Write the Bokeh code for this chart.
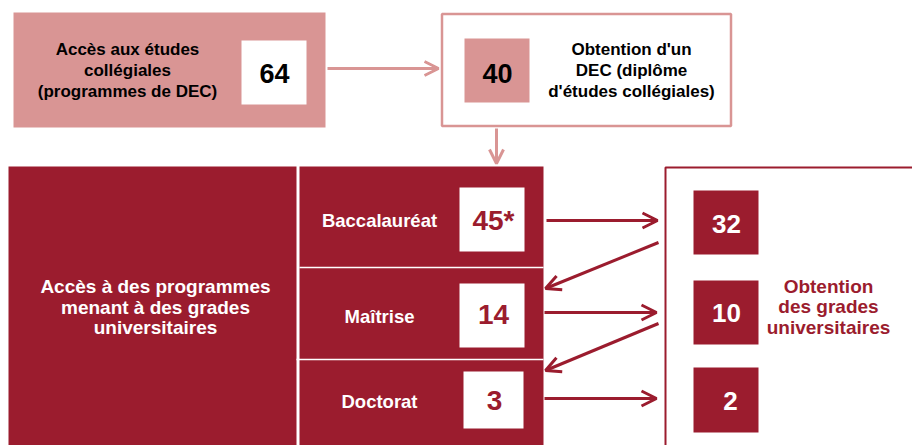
from bokeh.plotting import figure
from bokeh.models import Range1d, Arrow, OpenHead
from bokeh.core.properties import value
from bokeh.embed import file_html
from bokeh.resources import INLINE

# ---------------- data ----------------
college_access_label = ["Accès aux études", "collégiales", "(programmes de DEC)"]
college_access_value = ["64"]
dec_label = ["Obtention d'un", "DEC (diplôme", "d'études collégiales)"]
dec_value = ["40"]
univ_access_label = ["Accès à des programmes", "menant à des grades", "universitaires"]
levels = ["Baccalauréat", "Maîtrise", "Doctorat"]
access_values = ["45*", "14", "3"]
obtained_values = ["32", "10", "2"]
obtained_label = ["Obtention", "des grades", "universitaires"]

# ---------------- style ----------------
PINK = "#D99594"
RED = "#9B1C2E"
FONT = "Liberation Sans"

p = figure(width=912, height=445, x_range=Range1d(0, 912), y_range=Range1d(445, 0),
           output_backend="svg", toolbar_location=None, x_axis_type=None, y_axis_type=None,
           min_border=0, outline_line_color=None, background_fill_color="white")
p.grid.visible = False


def txt(xs, ys, texts, size, color):
    p.text(x=xs, y=ys, text=texts, text_font=value(FONT), text_font_style="bold",
           text_font_size=size, text_color=color, text_align="center",
           text_baseline="middle")


def arrow(x0, y0, x1, y1, color, size=15):
    p.add_layout(Arrow(end=OpenHead(size=size, line_color=color, line_width=3),
                       x_start=x0, y_start=y0, x_end=x1, y_end=y1,
                       line_color=color, line_width=3))


# ---------- top row ----------
p.quad(left=[13], right=[325], top=[12], bottom=[127], fill_color=PINK, line_color=None)
p.quad(left=[241], right=[306], top=[40], bottom=[104], fill_color="white", line_color=None)
txt([127] * 3, [49, 70, 91], college_access_label, "17px", "black")
txt([274], [72.5], college_access_value, "27px", "black")

p.quad(left=[441.5], right=[730.5], top=[13.5], bottom=[125.5], fill_color="white",
       line_color=PINK, line_width=2.5)
p.quad(left=[464], right=[529], top=[38], bottom=[102], fill_color=PINK, line_color=None)
txt([497], [72.5], dec_value, "27px", "black")
txt([631] * 3, [49, 70, 91], dec_label, "17px", "black")

arrow(327, 68, 438, 68, PINK, 14)
arrow(496, 128, 496, 163, PINK, 14)

# ---------- bottom left ----------
p.quad(left=[8], right=[296], top=[166], bottom=[460], fill_color=RED, line_color=None)
txt([155] * 3, [286, 307, 327], univ_access_label, "19px", "white")

p.quad(left=[299], right=[543], top=[166], bottom=[460], fill_color=RED, line_color=None)
p.segment(x0=[299, 296], y0=[267, 359], x1=[543, 543], y1=[267, 359],
          line_color="white", line_width=1.5)

p.quad(left=[459, 459, 463], right=[524, 524, 523], top=[187, 283, 371],
       bottom=[251, 347, 428], fill_color="white", line_color=None)
txt([379] * 3, [220, 316, 401], levels, "18.5px", "white")
txt([493, 493, 494], [220, 314, 400], access_values, "28px", RED)

# ---------- right ----------
p.quad(left=[665], right=[940], top=[167], bottom=[470], fill_color=None,
       line_color=RED, line_width=2)
p.quad(left=[693] * 3, right=[758] * 3, top=[190, 280, 367], bottom=[254, 344, 432],
       fill_color=RED, line_color=None)
txt([726, 726, 730], [223.5, 312, 400], obtained_values, "26px", "white")
txt([828] * 3, [286, 306, 327], obtained_label, "19px", RED)

# arrows between columns
arrow(546, 220, 657, 220, RED)
arrow(544, 312, 656, 312, RED)
arrow(544, 398, 656, 398, RED)
arrow(658, 242, 545, 288, RED)
arrow(658, 323, 545, 370, RED)

open("out.html", "w").write(file_html(p, INLINE))
